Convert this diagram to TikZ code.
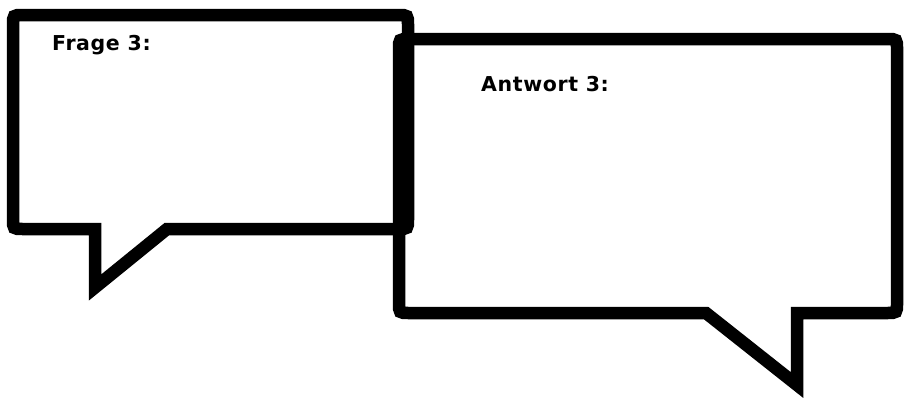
\documentclass[tikz,border=0pt]{standalone}
\usepackage{fontspec}
\newfontfamily\labfont[LetterSpace=3]{DejaVu Sans Bold}
\begin{document}
\begin{tikzpicture}[x=1pt,y=-1pt]
\tikzset{
  bubble/.style={draw=black, line width=12.5pt, line join=miter, miter limit=10},
  lab/.style={anchor=base west, inner sep=0pt, font=\labfont\fontsize{20.5}{24}\selectfont}
}
\useasboundingbox (0,0) rectangle (904,399);
% left bubble (question)
\draw[bubble] (95,229) -- (23,229) .. controls (13,229) .. (13,219)
  -- (13,25) .. controls (13,15) .. (23,15)
  -- (398,15) .. controls (408,15) .. (408,25)
  -- (408,219) .. controls (408,229) .. (398,229)
  -- (167,229) -- (95,287.5) -- cycle;
% right bubble (answer)
\draw[bubble] (797,313) -- (887,313) .. controls (897,313) .. (897,303)
  -- (897,49) .. controls (897,39) .. (887,39)
  -- (409,39) .. controls (399,39) .. (399,49)
  -- (399,303) .. controls (399,313) .. (409,313)
  -- (706,313) -- (797,385) -- cycle;
\node[lab] (frage) at (52,50) {Frage 3:};
\node[lab] (antwort) at (481,91) {Antwort 3:};
\end{tikzpicture}
\end{document}
